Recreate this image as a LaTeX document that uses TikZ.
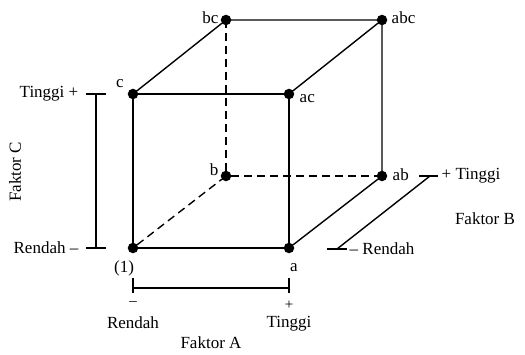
\documentclass[tikz,border=0pt]{standalone}
\usepackage{fontspec}
\setmainfont{Liberation Serif}
\usetikzlibrary{positioning}
\tikzset{
  every picture/.style={line width=1.4pt},
  dot/.style={draw,circle,fill=black,minimum size=9pt,inner sep=0},
  lbl/.style={font=\fontsize{17}{20}\selectfont,inner sep=1pt},
  sgn/.style={font=\fontsize{15}{18}\selectfont,inner sep=1pt},
  hid/.style={dash pattern=on 8pt off 5pt},
}
\begin{document}
\begin{tikzpicture}[x=1pt,y=1pt]
\useasboundingbox (0,0) rectangle (525,354);
% corners of the cube
\node[dot] (o)   at (133,106) {};
\node[dot] (a)   at (289,106) {};
\node[dot] (c)   at (133,260) {};
\node[dot] (ac)  at (289,260) {};
\node[dot] (b)   at (226,178) {};
\node[dot] (ab)  at (382,178) {};
\node[dot] (bc)  at (226,334) {};
\node[dot] (abc) at (382,334) {};
% visible edges
\draw (o) -- (a) -- (ac) -- (c) -- (o);
\draw (c) -- (bc) -- (abc) -- (ac);
\draw (abc) -- (ab) -- (a);
% hidden edges
\draw[hid] (o) -- (b);
\draw[hid] (b) -- (ab);
\draw[hid] (b) -- (bc);
% corner labels
\node[lbl,anchor=east] at (220,336) {bc};
\node[lbl,anchor=west] at (390,336) {abc};
\node[lbl] at (120,270) {c};
\node[lbl,anchor=west] at (298,255) {ac};
\node[lbl] at (214,184) {b};
\node[lbl,anchor=west] at (391,179) {ab};
\node[lbl] at (124,86) {(1)};
\node[lbl] at (294,86) {a};
% factor C
\coordinate (ctop) at (96,260);
\coordinate (cbot) at (96,106);
\draw (ctop) -- (cbot);
\draw ([xshift=-10pt]ctop) -- ([xshift=10pt]ctop);
\draw ([xshift=-10pt]cbot) -- ([xshift=10pt]cbot);
\node[lbl,anchor=east] (chi) at (80,260) {Tinggi +};
\node[lbl,anchor=east] (clo) at (80,106) {Rendah --};
\node[lbl,rotate=90] (fc) at (15,182) {Faktor C};
% factor A
\coordinate (alo) at (133,66);
\coordinate (ahi) at (289,66);
\draw (alo) -- (ahi);
\draw ([yshift=-5pt]alo) -- ([yshift=10pt]alo);
\draw ([yshift=-5pt]ahi) -- ([yshift=10pt]ahi);
\node[sgn] at (133,50) {--};
\node[sgn] at (289,49) {+};
\node[lbl] (alab) at (133,31) {Rendah};
\node[lbl] (ahlab) at (289,30) {Tinggi};
\node[lbl] (fa) at (211,11) {Faktor A};
% factor B
\coordinate (blo) at (337,105);
\coordinate (bhi) at (430,178);
\draw (blo) -- (bhi);
\draw ([xshift=-10pt]blo) -- ([xshift=10pt]blo);
\draw ([xshift=-11pt]bhi) -- ([xshift=8pt]bhi);
\node[lbl,anchor=west] (bhl) at (440,178) {+ Tinggi};
\node[lbl,anchor=west] (bll) at (348,105) {-- Rendah};
\node[lbl] (fb) at (485,135) {Faktor B};
\end{tikzpicture}
\end{document}
